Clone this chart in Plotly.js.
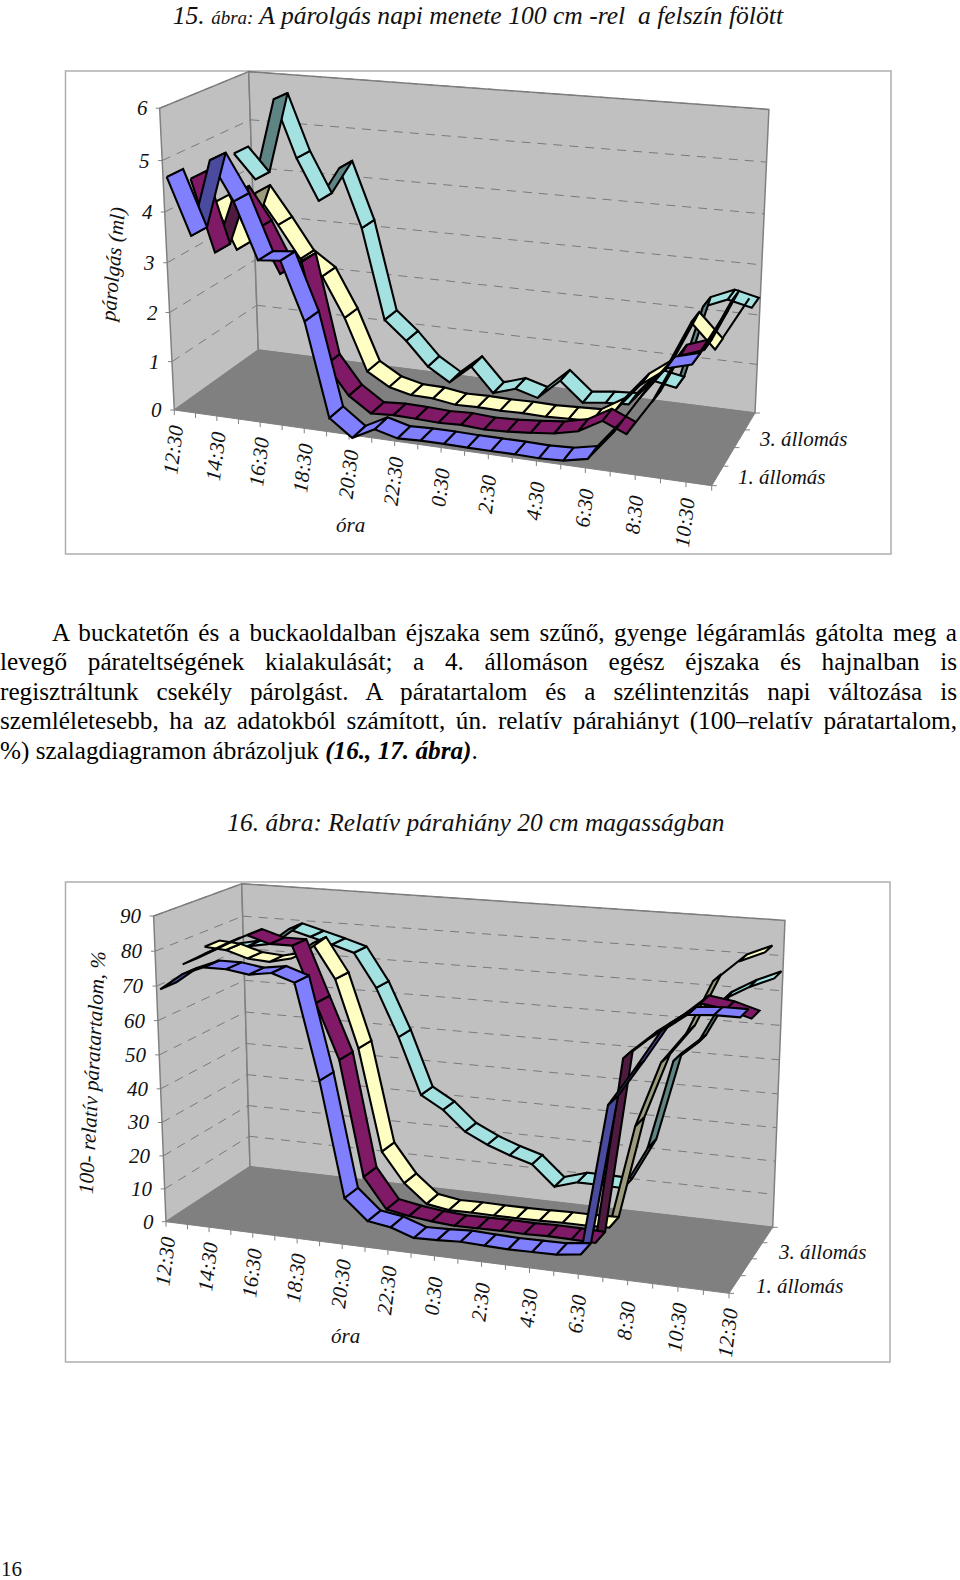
<!DOCTYPE html>
<html><head><meta charset="utf-8">
<script src="https://cdn.plot.ly/plotly-3.0.1.min.js"></script>
<style>
html,body{margin:0;padding:0;background:#fff}
#page{position:relative;width:960px;height:1580px;overflow:hidden}
#c1,#c2{position:absolute;left:0;width:960px}
#c1{top:0;height:600px}#c2{top:800px;height:780px}
.ln{position:absolute;font-family:"Liberation Serif",serif;font-size:25.2px;line-height:30px;color:#000;text-align:justify;text-align-last:justify}
</style></head><body><div id="page">
<div id="c1"></div><div id="c2"></div>
<div class="ln" style="left:52px;width:905px;top:618px">A buckatetőn és a buckaoldalban éjszaka sem szűnő, gyenge légáramlás gátolta meg a</div>
<div class="ln" style="left:0;width:957px;top:647px">levegő párateltségének kialakulását; a 4. állomáson egész éjszaka és hajnalban is</div>
<div class="ln" style="left:0;width:957px;top:677px">regisztráltunk csekély párolgást. A páratartalom és a szélintenzitás napi változása is</div>
<div class="ln" style="left:0;width:957px;top:706px">szemléletesebb, ha az adatokból számított, ún. relatív párahiányt (100–relatív páratartalom,</div>
<div class="ln" style="left:0;top:736px;text-align-last:left;white-space:nowrap">%) szalagdiagramon ábrázoljuk <b><i>(16., 17. ábra)</i></b>.</div>
</div>
<script>
// ---- data ----
const hours1 = ['12:30','13:30','14:30','15:30','16:30','17:30','18:30','19:30','20:30','21:30','22:30','23:30','0:30','1:30','2:30','3:30','4:30','5:30','6:30','7:30','8:30','9:30','10:30','11:30'];
const hours2 = hours1.concat(['12:30']);
const evapStation1 = [4.65,3.54,5.05,4.3,3.2,3.24,2.1,.22,-.12,.12,0,.02,.02,.01,.01,.01,0,.02,.12,.69,1.4,2.03,2.16,3.0];
const evapStation2 = [4.39,2.95,4.17,3.52,2.66,2.95,.92,.34,.03,.06,.05,.03,.05,.02,.04,.08,.13,.24,.51,.31,1.0,1.95,2.12,3.1];
const evapStation3 = [3.68,2.75,3.96,3.35,2.7,2.39,1.58,.52,.25,.14,.13,.06,.07,.06,.07,.06,.08,.1,.39,.95,1.3,2.29,1.82,2.66];
const evapStation4 = [4.47,3.97,5.65,4.49,3.65,4.36,3.17,1.3,.91,.42,.14,.53,.03,.18,.05,.47,.07,.13,.16,.71,.62,2.3,2.5,2.39];
const defStation1 = [68.6,73.4,76,76,75,76,73.8,46.5,13,7,6,3.7,3.9,4.3,4,3.8,3.9,4,4.9,47.7,58,69,74,74.5,74.5];
const defStation2 = [73,76.5,80,83,81,81,65,49,15,6,4.8,4,3.5,3.6,3.7,3.6,3.8,3.7,3.5,57,63,68,74,73,71];
const defStation3 = [75.5,75,73,72.5,74,79,69,49,18.5,9.6,4,2.9,3,2.9,2.9,3,3.2,3.2,3.4,34,53,62,77,83,86];
const defStation4 = [72,73.4,74.6,79.6,77.8,76,74,64,49.7,32.7,28.8,22.8,19.5,17,15,8.9,11,11,10.8,23.5,50,56,69,73,76];
const ticks1 = [0,1,2,3,4,5,6];
const ticks2 = [0,10,20,30,40,50,60,70,80,90];
const depthLabels = ['1. állomás','3. állomás'];

// ---- styling ----
const FACE = ['#8080ff','#801a66','#ffffc4','#a4e2e2'];
const DARK = ['#4a4a9e','#4e1a40','#9c9c7c','#5f8484'];
const SERIF = '"Liberation Serif","Times New Roman",serif';
const ital = s => ({family:SERIF,style:'italic',size:s,color:'#111'});

// oblique camera: floor homography plus one column for height
function camera(g){
  const [p0,p1,p2,p3] = [g.A,g.D,g.C,g.B]; // (x,s): (0,0),(1,0),(1,1),(0,1)
  const dx1=p1[0]-p2[0],dx2=p3[0]-p2[0],sx=p0[0]-p1[0]+p2[0]-p3[0];
  const dy1=p1[1]-p2[1],dy2=p3[1]-p2[1],sy=p0[1]-p1[1]+p2[1]-p3[1];
  const den=dx1*dy2-dx2*dy1;
  const G=(sx*dy2-dx2*sy)/den,H=(dx1*sy-sx*dy1)/den;
  const a=p1[0]-p0[0]+G*p1[0],b=p3[0]-p0[0]+H*p3[0],c=p0[0];
  const d=p1[1]-p0[1]+G*p1[1],e=p3[1]-p0[1]+H*p3[1],f=p0[1];
  // height column by least squares on the three top corners
  const rows=[],rhs=[];
  [[g.At,0,0],[g.Bt,0,1],[g.Ct,1,1]].forEach(([t,x,s])=>{
    const w=G*x+H*s+1;
    rows.push([1,0,-t[0]]);rhs.push(t[0]*w-(a*x+b*s+c));
    rows.push([0,1,-t[1]]);rhs.push(t[1]*w-(d*x+e*s+f));
  });
  const M=[[0,0,0],[0,0,0],[0,0,0]],B=[0,0,0];
  rows.forEach((r,k)=>{for(let i=0;i<3;i++){B[i]+=r[i]*rhs[k];for(let j=0;j<3;j++)M[i][j]+=r[i]*r[j];}});
  const det3=m=>m[0][0]*(m[1][1]*m[2][2]-m[1][2]*m[2][1])-m[0][1]*(m[1][0]*m[2][2]-m[1][2]*m[2][0])+m[0][2]*(m[1][0]*m[2][1]-m[1][1]*m[2][0]);
  const D=det3(M);
  const sol=[0,1,2].map(i=>det3(M.map((row,k)=>row.map((v,j)=>j===i?B[k]:v)))/D);
  const [p,q,r]=sol;
  return (x,s,v)=>{const w=G*x+H*s+1+r*v;return [(a*x+b*s+c+p*v)/w,(d*x+e*s+f+q*v)/w];};
}

function draw(id,g){
  const P=camera(g), n=g.hours.length, vm=g.ticks[g.ticks.length-1];
  const T=(i,s,v)=>P(i/(n-1),s,v/vm);
  const tr=[], ann=[];
  const poly=(pts,fill,line,w)=>tr.push({type:'scatter',mode:'lines',x:pts.map(p=>p[0]).concat(pts[0][0]),y:pts.map(p=>p[1]).concat(pts[0][1]),fill:'toself',fillcolor:fill,line:{color:line,width:w},hoverinfo:'skip'});
  const seg=(pts,col,w,dash)=>tr.push({type:'scatter',mode:'lines',x:pts.map(p=>p[0]),y:pts.map(p=>p[1]),line:{color:col,width:w,dash:dash||'solid'},hoverinfo:'skip'});
  const A=T(0,0,0),B=T(0,1,0),C=T(n-1,1,0),D=T(n-1,0,0),At=T(0,0,vm),Bt=T(0,1,vm),Ct=T(n-1,1,vm);
  poly([A,B,Bt,At],'#c0c0c0','#808080',1.5);
  poly([B,C,Ct,Bt],'#c0c0c0','#808080',1.5);
  poly([A,B,C,D],'#808080','#808080',1);
  g.ticks.forEach(v=>{
    const a=T(0,0,v),b=T(0,1,v),c=T(n-1,1,v);
    if(v>0){seg([a,b],'#7a7a7a',1,'9px,7px');seg([b,c],'#7a7a7a',1,'9px,7px');}
    seg([[a[0]-4,a[1]],a],'#808080',1);
    ann.push({x:a[0]-10,y:a[1],text:String(v),xanchor:'right',yanchor:'middle',showarrow:false,font:ital(21)});
  });
  g.hours.forEach((h,i)=>{
    const t=T(i,0,0);
    seg([t,[t[0],t[1]+5]],'#808080',1);
    if(i%2===0) ann.push({x:t[0]-1,y:t[1]+40,text:h,textangle:-83,xanchor:'center',yanchor:'middle',showarrow:false,font:ital(21)});
  });
  for(let k=0;k<=4;k++){const t=T(n-1,k/4,0);seg([t,[t[0]+5,t[1]]],'#808080',1);}
  // ribbons, back series first, right-hand segment first
  for(let k=3;k>=0;k--){
    const s0=(k+.15)/4,s1=(k+.85)/4,val=g.series[k];
    for(let i=n-2;i>=0;i--){
      const q=[T(i,s0,val[i]),T(i+1,s0,val[i+1]),T(i+1,s1,val[i+1]),T(i,s1,val[i])];
      let ar=0;q.forEach((p,j)=>{const o=q[(j+1)%4];ar+=p[0]*o[1]-o[0]*p[1];});
      poly(q,ar<0?FACE[k]:DARK[k],'#000',2.1);
    }
  }
  g.labels.forEach(l=>ann.push({x:l.x,y:l.y,text:l.t,textangle:l.a||0,xanchor:'center',yanchor:'middle',showarrow:false,font:l.font||ital(21)}));
  const layout={width:960,height:g.h,margin:{l:0,r:0,t:0,b:0},paper_bgcolor:'#fff',plot_bgcolor:'#fff',showlegend:false,
    title:g.title,
    xaxis:{range:[0,960],visible:false,fixedrange:true},
    yaxis:{range:[g.top+g.h,g.top],visible:false,fixedrange:true},
    shapes:[{type:'rect',xref:'x',yref:'y',x0:g.frame[0],y0:g.frame[1],x1:g.frame[2],y1:g.frame[3],line:{color:'#aeaeae',width:1.5},layer:'below'}],
    annotations:ann};
  Plotly.newPlot(id,tr,layout,{staticPlot:true,displayModeBar:false});
}

draw('c1',{top:0,h:600,frame:[65.5,71,891,554],hours:hours1,ticks:ticks1,
  series:[evapStation1,evapStation2,evapStation3,evapStation4],
  A:[174.3,410],B:[258.3,350],C:[755,413],D:[711.7,485.7],At:[160,108],Bt:[248.3,72],Ct:[769,109.3],
  title:{text:'15. <span style="font-size:19px">ábra:</span> A párolgás napi menete 100 cm -rel  a felszín fölött',x:0.4978,xanchor:'center',y:1-15/600,yanchor:'middle',font:ital(25.6)},
  labels:[{x:113,y:265,t:'párolgás (ml)',a:-85},{x:350,y:525,t:'óra'},{x:803,y:439,t:depthLabels[1]},{x:782,y:477,t:depthLabels[0]}]});
draw('c2',{top:800,h:780,frame:[65.5,882,890,1362],hours:hours2,ticks:ticks2,
  series:[defStation1,defStation2,defStation3,defStation4],
  A:[166,1221.7],B:[250,1166.7],C:[772.7,1227.3],D:[729,1293.3],At:[153.3,915.7],Bt:[242,885],Ct:[785,919.3],
  title:{text:'16. ábra: Relatív párahiány 20 cm magasságban',x:0.4958,xanchor:'center',y:1-22/780,yanchor:'middle',font:ital(25.4)},
  labels:[{x:92,y:1073,t:'100- relatív páratartalom, %',a:-87},{x:345,y:1336,t:'óra'},{x:822,y:1252,t:depthLabels[1]},{x:800,y:1286,t:depthLabels[0]},
    {x:11,y:1569,t:'16',font:{family:SERIF,size:21,color:'#111'}}]});
</script></body></html>
